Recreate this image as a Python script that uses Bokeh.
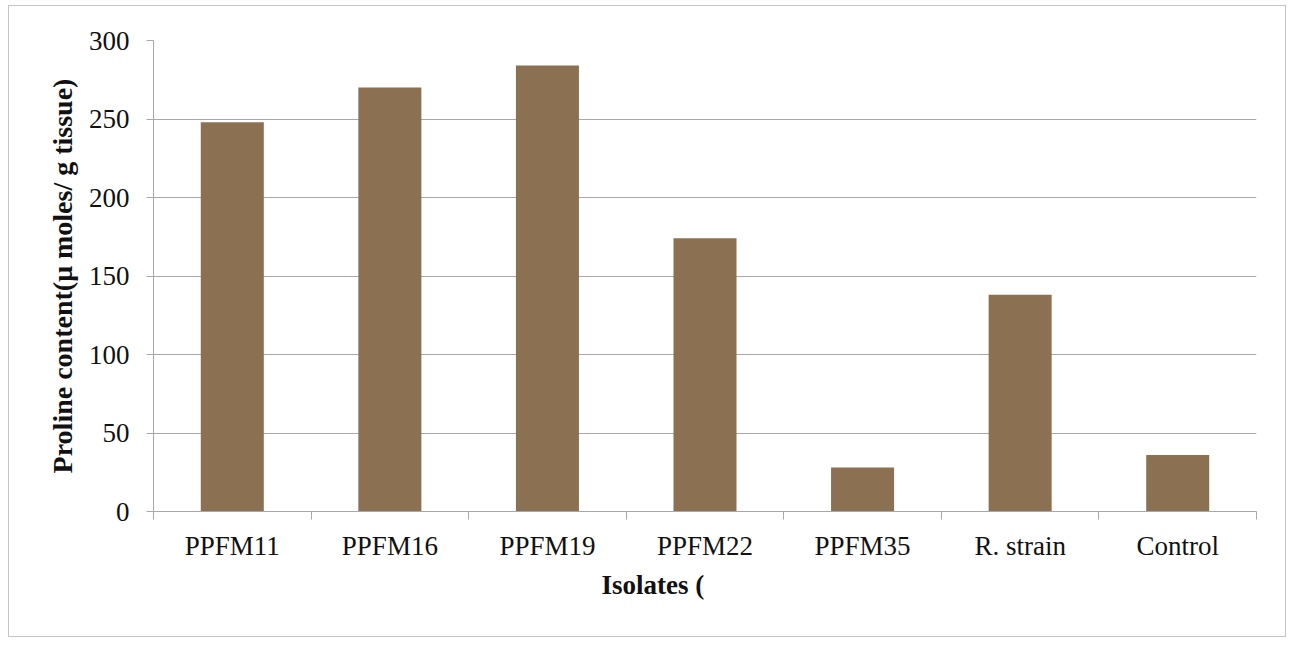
from bokeh.plotting import figure
from bokeh.models import FixedTicker, Title, Range1d
from bokeh.embed import file_html
from bokeh.resources import INLINE

# Proline content of plants inoculated with each isolate
categories = ["PPFM11", "PPFM16", "PPFM19", "PPFM22", "PPFM35", "R. strain", "Control"]
proline = [248, 270, 284, 174, 28, 138, 36]
y_ticks = [0, 50, 100, 150, 200, 250, 300]

FONT = "Liberation Serif"
GRID = "#a8a8a8"
BAR = "#8c7052"
INK = "#111111"

centers = [i + 0.5 for i in range(len(categories))]

p = figure(
    width=1278, height=632,
    x_range=Range1d(0, len(categories)), y_range=Range1d(0, 300),
    output_backend="svg", toolbar_location=None,
    min_border_left=144, min_border_right=31,
    min_border_top=34, min_border_bottom=127,
)
p.margin = (5, 5, 9, 8)
p.styles = {"border": "1.5px solid #c4c4c4", "box-sizing": "border-box"}
p.outline_line_color = None
p.background_fill_color = "white"
p.border_fill_color = "white"

p.vbar(x=centers, top=proline, width=0.4, fill_color=BAR, line_color=None)

# y axis
p.yaxis.ticker = FixedTicker(ticks=y_ticks)
p.yaxis.axis_line_color = GRID
p.yaxis.major_tick_line_color = GRID
p.yaxis.major_tick_out = 7
p.yaxis.major_tick_in = 0
p.yaxis.minor_tick_line_color = None
p.yaxis.major_label_text_font = FONT
p.yaxis.major_label_text_font_size = "27px"
p.yaxis.major_label_text_color = INK
p.yaxis.major_label_standoff = 17
p.yaxis.axis_label = "Proline content(\u03bc moles/ g tissue)"
p.yaxis.axis_label_text_font = FONT
p.yaxis.axis_label_text_font_size = "28px"
p.yaxis.axis_label_text_font_style = "bold"
p.yaxis.axis_label_text_color = INK
p.yaxis.axis_label_standoff = 8

# x axis: labels under each bar, ticks on category boundaries
p.xaxis.ticker = FixedTicker(ticks=centers, minor_ticks=list(range(len(categories) + 1)))
p.xaxis.major_label_overrides = {c: name for c, name in zip(centers, categories)}
p.xaxis.axis_line_color = GRID
p.xaxis.major_tick_line_color = None
p.xaxis.minor_tick_line_color = GRID
p.xaxis.minor_tick_out = 8
p.xaxis.minor_tick_in = 0
p.xaxis.major_label_text_font = FONT
p.xaxis.major_label_text_font_size = "27px"
p.xaxis.major_label_text_color = INK
p.xaxis.major_label_standoff = 11

p.xgrid.grid_line_color = None
p.ygrid.grid_line_color = GRID
p.ygrid.grid_line_width = 1

# x axis title, set below the tick labels
p.add_layout(Title(
    text="Isolates (", align="left", offset=448, standoff=8,
    text_font=FONT, text_font_size="27px",
    text_font_style="bold", text_color=INK,
), "below")

open("out.html", "w").write(file_html(p, INLINE))
